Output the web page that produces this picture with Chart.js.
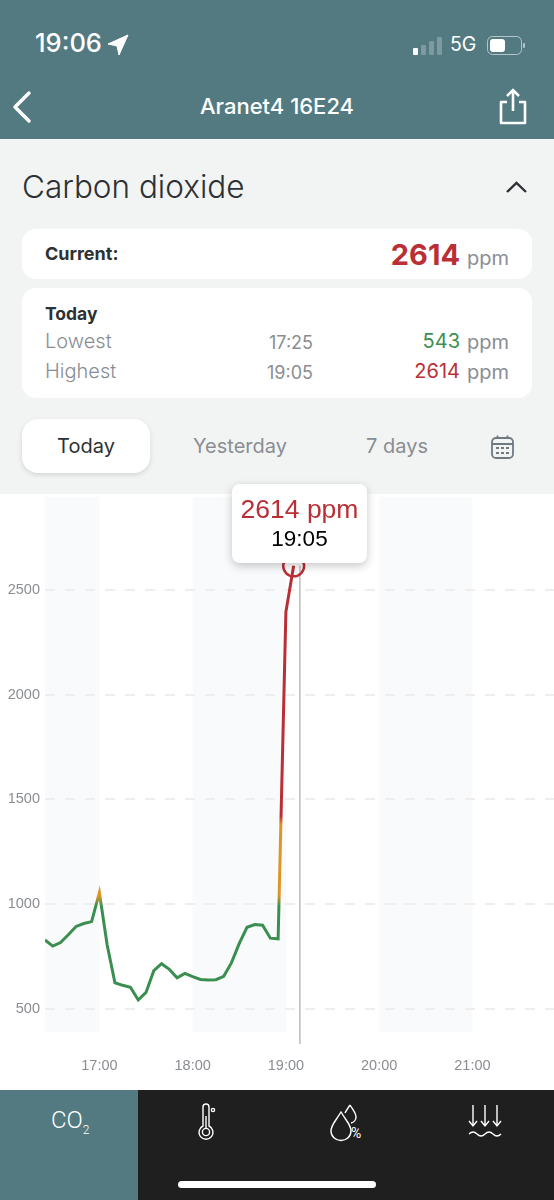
<!DOCTYPE html>
<html>
<head>
<meta charset="utf-8">
<title>Carbon dioxide</title>
<script src="https://cdn.jsdelivr.net/npm/chart.js@4"></script>
<style>
html, body { margin: 0; padding: 0; }
body { width: 554px; height: 1200px; position: relative; overflow: hidden; background: #f2f4f4; font-family: Inter, sans-serif; }
.box { position: absolute; }
.t { position: absolute; white-space: nowrap; transform: translateY(-50%); line-height: 1; }
.r { text-align: right; }
.c { text-align: center; }
.gray { color: #8a8d92; }
.card { position: absolute; left: 22px; width: 510px; background: #fff; border-radius: 14px; }
svg { position: absolute; overflow: visible; fill: none; }
#chartWrap { position: absolute; left: 0; top: 494px; width: 554px; height: 596px; background: #fff; overflow: hidden; }
#grafico { position: absolute; left: 0; top: -11px; }
#tip { position: absolute; left: 232px; top: 484px; width: 135px; height: 79px; background: #fff; border-radius: 8px; box-shadow: 0 3px 10px rgba(0,0,0,.22); font-family: "Liberation Sans", sans-serif; }
</style>
</head>
<body>

<div class="box" style="left:0;top:0;width:554px;height:139px;background:#527a80"></div>
<div class="t" style="left:35px;top:43px;color:#fff;font-size:25.5px;font-weight:500">19:06</div>
<svg style="left:108px;top:35px" width="20" height="20"><path d="M20 0 L0 9 L9 11 L11 20 Z" fill="#fff" stroke="#fff" stroke-linejoin="round"/></svg>
<svg style="left:413px;top:36px" width="30" height="20">
  <rect x="0" y="12" width="5" height="7" rx="1" fill="#fff"/>
  <rect x="8" y="9" width="5" height="10" rx="1" fill="#7d9a9f"/>
  <rect x="16" y="5" width="5" height="14" rx="1" fill="#7d9a9f"/>
  <rect x="24" y="1" width="5" height="18" rx="1" fill="#7d9a9f"/>
</svg>
<div class="t" style="left:450px;top:45px;color:#fff;font-size:19.5px">5G</div>
<svg style="left:487px;top:36px" width="40" height="20">
  <rect x="0.5" y="0.5" width="34" height="18" rx="5" stroke="#b5c6c9"/>
  <rect x="3" y="3" width="15" height="13" rx="3" fill="#fff"/>
  <rect x="36" y="7" width="2" height="5" rx="1" fill="#b5c6c9"/>
</svg>
<svg style="left:12px;top:91px" width="20" height="32"><path d="M17 2 L3 16 L17 30" stroke="#fff" stroke-width="3.5" stroke-linecap="round" stroke-linejoin="round"/></svg>
<div class="t c" style="left:0;width:554px;top:106px;color:#fff;font-size:22px;font-weight:500">Aranet4 16E24</div>
<svg style="left:499px;top:88px" width="28" height="37">
  <path d="M8 14 H2 V35 H26 V14 H20" stroke="#fff" stroke-width="2.6" stroke-linejoin="round"/>
  <path d="M14 23 V3 M8 8 L14 2 L20 8" stroke="#fff" stroke-width="2.6"/>
</svg>

<div class="t" style="left:22px;top:187px;color:#2d3133;font-size:31.5px;font-weight:300">Carbon dioxide</div>
<svg style="left:505px;top:180px" width="23" height="14"><path d="M2 12 L11.5 3 L21 12" stroke="#2d3133" stroke-width="2.4"/></svg>

<div class="card" style="top:229px;height:50px"></div>
<div class="t" style="left:45px;top:254px;font-size:18px;font-weight:700;color:#2d3133">Current:</div>
<div class="t r" style="right:94px;top:254px;font-size:29px;font-weight:700;color:#b92f35">2614</div>
<div class="t r gray" style="right:45px;top:258px;font-size:20px">ppm</div>

<div class="card" style="top:288px;height:110px"></div>
<div class="t" style="left:45px;top:314px;font-size:17.5px;font-weight:700;color:#2d3133">Today</div>
<div class="t gray" style="left:45px;top:341px;font-size:20px;font-weight:300">Lowest</div>
<div class="t gray r" style="right:241px;top:343px;font-size:18px">17:25</div>
<div class="t r" style="right:94px;top:341px;font-size:20px;color:#3a8f50">543</div>
<div class="t r gray" style="right:45px;top:342px;font-size:20px">ppm</div>
<div class="t gray" style="left:45px;top:371px;font-size:20px;font-weight:300">Highest</div>
<div class="t gray r" style="right:241px;top:373px;font-size:18px">19:05</div>
<div class="t r" style="right:94px;top:371px;font-size:20px;color:#b92f35">2614</div>
<div class="t r gray" style="right:45px;top:372px;font-size:20px">ppm</div>

<div class="box" style="left:22px;top:419px;width:128px;height:54px;background:#fff;border-radius:16px;box-shadow:0 2px 5px rgba(0,0,0,.12)"></div>
<div class="t c" style="left:22px;width:128px;top:446px;font-size:20px;color:#2d3133">Today</div>
<div class="t c gray" style="left:160px;width:160px;top:446px;font-size:20px">Yesterday</div>
<div class="t c gray" style="left:337px;width:120px;top:446px;font-size:20px">7 days</div>
<svg style="left:491px;top:435px" width="23" height="24">
  <rect x="1" y="3" width="21" height="20" rx="4" stroke="#6f7a80" stroke-width="1.8"/>
  <path d="M1 9 H22 M6.5 0.5 V4 M16.5 0.5 V4" stroke="#6f7a80" stroke-width="1.8"/>
  <path d="M5 13 H8 M10 13 H13 M15 13 H18 M5 18 H8 M10 18 H13 M15 18 H18" stroke="#6f7a80" stroke-width="2"/>
</svg>

<div id="chartWrap"><canvas id="grafico" width="554" height="607"></canvas></div>

<div id="tip">
  <div class="t c" style="left:0;width:135px;top:25px;font-size:26.5px;color:#b92f35">2614 ppm</div>
  <div class="t c" style="left:0;width:135px;top:55px;font-size:22.5px;color:#000">19:05</div>
</div>

<div class="box" style="left:0;top:1090px;width:554px;height:110px;background:#1f1f1f"></div>
<div class="box" style="left:0;top:1090px;width:138px;height:110px;background:#527a80"></div>
<div class="t" style="left:51px;top:1120px;color:#fff;font-size:24px;font-weight:300;font-family:Roboto">CO<sub style="font-size:12px;line-height:0">2</sub></div>
<svg style="left:198px;top:1104px" width="18" height="36" stroke="#fff" stroke-width="1.4">
  <path d="M5 22 V3 a3 3 0 0 1 6 0 V22 a7 7 0 1 1 -6 0 Z"/>
  <circle cx="8" cy="28" r="3.6"/>
  <path d="M8 12 V24"/>
  <circle cx="15" cy="6" r="1.6"/>
</svg>
<svg style="left:330px;top:1104px" width="36" height="37" stroke="#fff" stroke-width="1.4">
  <path d="M11 8 C5 18 1 21 1 27 a10 9.5 0 0 0 20 0 C21 21 17 18 11 8 Z"/>
  <path d="M20 1 C18 4 16 7 15 9 M20 1 C23 6 26 9 26 13 a6 6 0 0 1 -5 6"/>
</svg>
<div class="t" style="left:351px;top:1133px;color:#fff;font-size:14px;font-family:Roboto">%</div>
<svg style="left:468px;top:1104px" width="35" height="36" stroke="#fff" stroke-width="1.4">
  <path d="M5 1 V22 M1 17 L5 22 L9 17 M17 1 V22 M13 17 L17 22 L21 17 M29 1 V22 M25 17 L29 22 L33 17"/>
  <path d="M1 30 q4 -4 8 0 t8 0 t8 0 t8 0" />
</svg>
<div class="box" style="left:178px;top:1181px;width:198px;height:7px;background:#fff;border-radius:4px"></div>

<script>
// Lecturas de CO2 cada 5 minutos
var horas = ["16:25","16:30","16:35","16:40","16:45","16:50","16:55","17:00","17:05","17:10","17:15","17:20",
             "17:25","17:30","17:35","17:40","17:45","17:50","17:55","18:00","18:05","18:10","18:15","18:20",
             "18:25","18:30","18:35","18:40","18:45","18:50","18:55","19:00","19:05"];
var co2 = [829,800,817,854,894,908,917,1055,805,625,613,603,
           543,579,683,716,689,649,670,654,641,638,640,656,
           721,813,890,903,900,838,835,2395,2614];

var ticksX = ["17:00","18:00","19:00","20:00","21:00"];
var ticksY = [500,1000,1500,2000,2500];
var bandas = [["16:25","17:00"],["18:00","19:00"],["20:00","21:00"]];
var horaActual = "19:09";

function aMinutos(h) {
    var p = h.split(":");
    return parseInt(p[0]) * 60 + parseInt(p[1]);
}
function aHora(m) {
    return Math.floor(m / 60) + ":" + ("0" + (m % 60)).slice(-2);
}

var puntos = horas.map(function (h, i) { return { x: aMinutos(h), y: co2[i] }; });

// Color de la linea segun el nivel de CO2
function colorLinea(ctx) {
    var chart = ctx.chart;
    if (!chart.chartArea) return "#3a8f50";
    var y = chart.scales.y;
    var g = chart.ctx.createLinearGradient(0, y.getPixelForValue(y.min), 0, y.getPixelForValue(y.max));
    function f(v) { return (v - y.min) / (y.max - y.min); }
    g.addColorStop(0, "#3a8f50");
    g.addColorStop(f(990), "#3a8f50");
    g.addColorStop(f(1040), "#dd9527");
    g.addColorStop(f(1380), "#dd9527");
    g.addColorStop(f(1420), "#b92f35");
    g.addColorStop(1, "#b92f35");
    return g;
}

var fondo = {
    id: "fondo",
    // las bandas van debajo de la rejilla
    beforeDraw: function (chart) {
        var c = chart.ctx, a = chart.chartArea, x = chart.scales.x, y = chart.scales.y;
        bandas.forEach(function (b) {
            var x1 = x.getPixelForValue(aMinutos(b[0]));
            var x2 = x.getPixelForValue(aMinutos(b[1]));
            var fin = y.getPixelForValue(390);
            c.fillStyle = "#f9fafc";
            c.fillRect(x1, a.top, x2 - x1, fin - a.top);
        });
    },
    beforeDatasetsDraw: function (chart) {
        var c = chart.ctx, a = chart.chartArea, x = chart.scales.x, y = chart.scales.y;
        var ax = x.getPixelForValue(aMinutos(horaActual));
        c.strokeStyle = "#b9bcbf";
        c.lineWidth = 1.5;
        c.beginPath();
        c.moveTo(ax, y.getPixelForValue(2614));
        c.lineTo(ax, a.bottom);
        c.stroke();
    }
};

var grafico = new Chart(document.getElementById("grafico").getContext("2d"), {
    type: "line",
    data: {
        datasets: [{
            data: puntos,
            borderColor: colorLinea,
            borderWidth: 3,
            tension: 0,
            fill: false,
            pointRadius: function (ctx) { return ctx.dataIndex === co2.length - 1 ? 10.5 : 0; },
            pointBackgroundColor: "rgba(0,0,0,0)",
            pointBorderColor: "#b92f35",
            pointBorderWidth: 2.5
        }]
    },
    options: {
        responsive: false,
        animation: false,
        events: [],
        layout: { autoPadding: false, padding: 0 },
        plugins: { legend: { display: false }, tooltip: { enabled: false } },
        scales: {
            x: {
                type: "linear",
                min: aMinutos("16:25"),
                max: 1312.5,
                grid: { display: false },
                border: { display: false },
                afterBuildTicks: function (s) {
                    s.ticks = ticksX.map(function (h) { return { value: aMinutos(h) }; });
                },
                afterFit: function (s) { s.height = 46; },
                ticks: {
                    autoSkip: false,
                    maxRotation: 0,
                    padding: 5,
                    color: "#8a8d92",
                    font: { family: "Liberation Sans", size: 14.5 },
                    callback: function (v) { return aHora(v); }
                }
            },
            y: {
                min: 333,
                max: 2944,
                border: { display: false, dash: [10, 10] },
                grid: { color: "#eeeeee", lineWidth: 2, drawTicks: false },
                afterBuildTicks: function (s) {
                    s.ticks = ticksY.map(function (v) { return { value: v }; });
                },
                afterFit: function (s) { s.width = 45; },
                ticks: {
                    padding: 5,
                    color: "#8a8d92",
                    font: { family: "Liberation Sans", size: 14.5 },
                    callback: function (v) { return String(v); }
                }
            }
        }
    },
    plugins: [fondo]
});
</script>
</body>
</html>
